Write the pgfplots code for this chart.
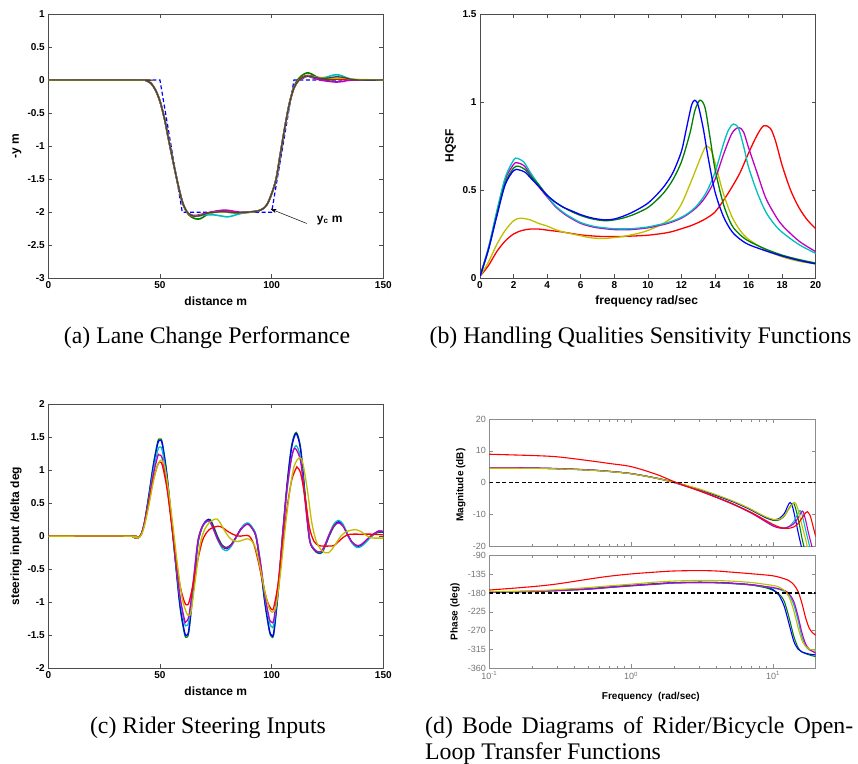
\documentclass[border=0pt]{standalone}
\usepackage{pgfplots}
\pgfplotsset{compat=1.18}
\usepackage{fontspec}
\setmainfont{Liberation Serif}
\newfontfamily\arialf{Liberation Sans}
\usetikzlibrary{arrows.meta}
\definecolor{mblue}{rgb}{0,0,1}
\definecolor{mgreen}{rgb}{0,0.5,0}
\definecolor{mred}{rgb}{1,0,0}
\definecolor{mcyan}{rgb}{0,0.75,0.75}
\definecolor{mmag}{rgb}{0.75,0,0.75}
\definecolor{myel}{rgb}{0.75,0.75,0}
\definecolor{mgray}{rgb}{0.27,0.27,0.27}
\pgfplotsset{
  mat/.style={
    scale only axis, anchor=south west,
    axis line style={black!70, line width=0.6pt},
    tick style={black!70, line width=0.5pt},
    tick align=inside, major tick length=4pt,
    ticklabel style={font=\arialf\bfseries\fontsize{10}{12}\selectfont},
    label style={font=\arialf\bfseries\fontsize{12}{14}\selectfont},
    /pgf/number format/assume math mode=true,
    every axis plot/.append style={line width=1.3pt, smooth},
  },
  md/.style={
    scale only axis, anchor=south west,
    axis line style={black!45, line width=0.6pt},
    tick style={black!45, line width=0.5pt},
    tick align=inside, major tick length=4pt, minor tick length=2.5pt,
    ticklabel style={font=\arialf\fontsize{9}{10}\selectfont, text=black!55},
    label style={font=\arialf\bfseries\fontsize{10}{12}\selectfont},
    /pgf/number format/assume math mode=true,
    every axis plot/.append style={line width=1.1pt, smooth},
    xmin=0.1, xmax=20, xtick={0.1,1,10},
  },
}
\begin{document}
\begin{tikzpicture}
\path[use as bounding box] (0pt,0pt) rectangle (858pt,763pt);

% ---------------- (a) ----------------
\begin{axis}[mat, at={(48.3pt,484.7pt)}, width=335pt, height=264.3pt,
  xmin=0, xmax=150, ymin=-3, ymax=1, xtick={0,50,100,150},
  ytick={-3,-2.5,-2,-1.5,-1,-0.5,0,0.5,1},
  xlabel={distance m}, ylabel={-y m},
  xlabel style={at={(axis description cs:0.5,-0.0885)}, anchor=center},
  ylabel style={at={(axis description cs:-0.0934,0.5)}, anchor=center}]
\addplot[mblue, line width=1.2pt, dash pattern=on 4pt off 2.5pt, sharp plot] coordinates {(0,0) (50,0) (60,-2) (100,-2) (110,0) (150,0)};
\addplot[mgreen, line width=1.6pt] coordinates {(0,0) (42,0) (44,-0.01) (46,-0.05) (48,-0.15) (50,-0.32) (52,-0.58) (54,-0.92) (56,-1.25) (58,-1.57) (60,-1.85) (62,-2.0) (64,-2.07) (66,-2.1) (68,-2.1) (70,-2.06) (72,-2.02) (75,-1.99) (78,-1.98) (81,-2.0) (85,-2.01) (89,-2.0) (92,-1.99) (94,-1.98) (96,-1.95) (98,-1.88) (100,-1.72) (102,-1.5) (104,-1.1) (106,-0.7) (108,-0.35) (110,-0.1) (112,0.02) (114,0.08) (116,0.11) (118,0.09) (120,0.05) (122,0.02) (125,0.0) (128,0.01) (131,0.02) (135,0.01) (140,0) (150,0)};
\addplot[mred, line width=1.6pt] coordinates {(0,0) (42,0) (44,-0.01) (46,-0.05) (48,-0.15) (50,-0.32) (52,-0.58) (54,-0.92) (56,-1.25) (58,-1.57) (60,-1.84) (62,-1.99) (64,-2.06) (68,-2.05) (72,-2.02) (76,-1.98) (78,-1.98) (82,-2.0) (86,-2.01) (90,-2.0) (94,-1.98) (96,-1.95) (98,-1.88) (100,-1.72) (102,-1.5) (104,-1.1) (106,-0.7) (108,-0.35) (110,-0.11) (112,0.0) (114,0.05) (116,0.07) (118,0.06) (122,0.03) (126,0.02) (130,0.02) (136,0.0) (150,0)};
\addplot[mcyan, line width=1.6pt] coordinates {(0,0) (42,0) (44,-0.01) (46,-0.05) (48,-0.15) (50,-0.32) (52,-0.58) (54,-0.92) (56,-1.25) (58,-1.57) (60,-1.84) (62,-1.99) (64,-2.05) (66,-2.06) (70,-2.04) (74,-2.04) (78,-2.06) (80,-2.07) (82,-2.06) (85,-2.03) (89,-2.0) (92,-1.99) (94,-1.98) (96,-1.95) (98,-1.88) (100,-1.72) (102,-1.5) (104,-1.1) (106,-0.7) (108,-0.35) (110,-0.12) (112,-0.01) (114,0.03) (116,0.06) (120,0.04) (124,0.04) (127,0.07) (129,0.08) (131,0.07) (134,0.03) (138,0.0) (150,0)};
\addplot[mmag, line width=1.6pt] coordinates {(0,0) (42,0) (44,-0.01) (46,-0.05) (48,-0.15) (50,-0.32) (52,-0.58) (54,-0.92) (56,-1.25) (58,-1.57) (60,-1.84) (62,-1.99) (64,-2.04) (66,-2.05) (70,-2.02) (74,-1.99) (78,-1.97) (80,-1.97) (82,-1.98) (86,-2.0) (90,-2.0) (94,-1.98) (96,-1.95) (98,-1.88) (100,-1.72) (102,-1.5) (104,-1.1) (106,-0.7) (108,-0.35) (110,-0.12) (112,-0.01) (114,0.03) (116,0.06) (118,0.04) (122,0.0) (126,-0.02) (129,-0.03) (132,-0.02) (136,0.0) (150,0)};
\addplot[myel, line width=1.5pt] coordinates {(0,0) (42,0) (44,-0.01) (46,-0.05) (48,-0.15) (50,-0.32) (52,-0.58) (54,-0.92) (56,-1.25) (58,-1.57) (60,-1.84) (62,-1.99) (64,-2.05) (66,-2.06) (70,-2.03) (75,-2.0) (80,-2.0) (85,-2.01) (90,-2.0) (94,-1.98) (96,-1.95) (98,-1.88) (100,-1.72) (102,-1.5) (104,-1.1) (106,-0.7) (108,-0.35) (110,-0.12) (112,-0.01) (114,0.04) (116,0.06) (120,0.04) (126,0.03) (132,0.03) (138,0.01) (150,0)};
\addplot[mgray, line width=1.3pt] coordinates {(0,0) (42,0) (44,-0.01) (46,-0.05) (48,-0.15) (50,-0.32) (52,-0.58) (54,-0.92) (56,-1.25) (58,-1.57) (60,-1.84) (62,-1.99) (64,-2.05) (66,-2.06) (68,-2.05) (70,-2.03) (72,-2.01) (75,-2.0) (78,-1.99) (81,-2.0) (85,-2.01) (89,-2.0) (92,-1.99) (94,-1.98) (96,-1.95) (98,-1.88) (100,-1.72) (102,-1.5) (104,-1.1) (106,-0.7) (108,-0.35) (110,-0.12) (112,-0.01) (114,0.04) (116,0.06) (118,0.05) (121,0.03) (125,0.03) (129,0.05) (132,0.04) (136,0.01) (140,0) (150,0)};
\draw[-{Stealth[length=6pt,width=4pt]}, black, line width=0.5pt] (axis cs:115.7,-2.17) -- (axis cs:99.5,-1.95);
\node[anchor=west, inner sep=0pt, font=\arialf\bfseries\fontsize{12}{14}\selectfont] at (axis cs:120.2,-2.12) {y\textsubscript{c} m};
\end{axis}

% ---------------- (b) ----------------
\begin{axis}[mat, at={(480pt,485pt)}, width=335.7pt, height=264pt,
  xmin=0, xmax=20, ymin=0, ymax=1.5, xtick={0,2,...,20},
  ytick={0,0.5,1,1.5},
  xlabel={frequency rad/sec}, ylabel={HQSF},
  xlabel style={at={(axis description cs:0.4966,-0.0885)}, anchor=center},
  ylabel style={at={(axis description cs:-0.0873,0.5)}, anchor=center}]
\addplot[mred] coordinates {(0,0.01) (0.5,0.07) (1,0.15) (1.5,0.21) (2,0.25) (2.5,0.27) (3,0.278) (3.5,0.278) (4,0.272) (5,0.26) (6,0.245) (7,0.237) (8,0.235) (9,0.238) (10,0.243) (11,0.255) (11.5,0.265) (12,0.28) (12.5,0.295) (13,0.315) (13.5,0.34) (14,0.375) (14.5,0.44) (15,0.515) (15.5,0.6) (16,0.71) (16.5,0.81) (16.9,0.865) (17.3,0.85) (17.6,0.78) (18,0.64) (18.5,0.5) (19,0.4) (19.5,0.33) (20,0.28)};
\addplot[myel] coordinates {(0,0.01) (0.5,0.09) (1,0.19) (1.5,0.27) (2,0.325) (2.4,0.34) (3,0.33) (3.5,0.31) (4,0.295) (4.5,0.275) (5,0.26) (5.5,0.25) (6,0.24) (6.5,0.23) (7,0.225) (7.5,0.225) (8,0.23) (8.5,0.235) (9,0.245) (9.5,0.255) (10,0.27) (10.5,0.29) (11,0.315) (11.5,0.35) (12,0.42) (12.5,0.53) (13,0.65) (13.3,0.72) (13.5,0.75) (13.8,0.72) (14.1,0.62) (14.5,0.48) (15,0.35) (15.5,0.27) (16,0.22) (17,0.16) (18,0.12) (19,0.095) (20,0.08)};
\addplot[mmag] coordinates {(0,0.01) (0.5,0.17) (1,0.37) (1.5,0.56) (2,0.645) (2.2,0.655) (2.6,0.64) (3,0.59) (3.5,0.52) (4,0.46) (4.5,0.405) (5,0.365) (5.5,0.335) (6,0.31) (6.5,0.295) (7,0.285) (8,0.275) (9,0.275) (10,0.285) (10.5,0.295) (11,0.305) (11.5,0.32) (12,0.34) (12.5,0.37) (13,0.41) (13.5,0.47) (14,0.56) (14.5,0.7) (15,0.82) (15.4,0.855) (15.7,0.83) (16,0.74) (16.5,0.6) (17,0.46) (17.5,0.37) (18,0.3) (19,0.21) (20,0.15)};
\addplot[mcyan] coordinates {(0,0.01) (0.5,0.17) (1,0.38) (1.5,0.57) (2,0.67) (2.2,0.68) (2.6,0.66) (3,0.6) (3.5,0.53) (4,0.465) (4.5,0.41) (5,0.37) (5.5,0.34) (6,0.315) (6.5,0.3) (7,0.29) (8,0.28) (9,0.28) (10,0.29) (10.5,0.3) (11,0.31) (11.5,0.325) (12,0.345) (12.5,0.375) (13,0.42) (13.5,0.49) (14,0.6) (14.5,0.76) (14.8,0.84) (15.1,0.875) (15.4,0.85) (15.7,0.75) (16,0.63) (16.5,0.49) (17,0.38) (17.5,0.31) (18,0.26) (19,0.19) (20,0.14)};
\addplot[mgreen] coordinates {(0,0.01) (0.5,0.16) (1,0.36) (1.5,0.54) (2,0.625) (2.3,0.635) (2.7,0.615) (3,0.58) (3.5,0.53) (4,0.47) (4.5,0.43) (5,0.4) (5.5,0.375) (6,0.355) (6.5,0.34) (7,0.33) (7.5,0.325) (8,0.33) (8.5,0.34) (9,0.355) (9.5,0.375) (10,0.4) (10.5,0.44) (11,0.49) (11.5,0.56) (12,0.66) (12.5,0.82) (12.8,0.95) (13.1,1.01) (13.4,0.97) (13.7,0.8) (14,0.62) (14.5,0.42) (15,0.3) (15.5,0.245) (16,0.21) (17,0.165) (18,0.13) (19,0.105) (20,0.085)};
\addplot[mblue] coordinates {(0,0.01) (0.5,0.16) (1,0.35) (1.5,0.53) (2,0.61) (2.3,0.615) (2.7,0.6) (3,0.57) (3.5,0.52) (4,0.47) (4.5,0.43) (5,0.4) (5.5,0.38) (6,0.36) (6.5,0.345) (7,0.335) (7.5,0.33) (8,0.335) (8.5,0.35) (9,0.37) (9.5,0.395) (10,0.425) (10.5,0.47) (11,0.525) (11.5,0.6) (12,0.72) (12.3,0.85) (12.6,0.98) (12.8,1.01) (13,0.98) (13.3,0.85) (13.6,0.68) (14,0.49) (14.5,0.35) (15,0.265) (15.5,0.22) (16,0.19) (17,0.155) (18,0.125) (19,0.1) (20,0.08)};
\end{axis}

% ---------------- (c) ----------------
\begin{axis}[mat, at={(48.3pt,94.7pt)}, width=335pt, height=264.3pt,
  xmin=0, xmax=150, ymin=-2, ymax=2, xtick={0,50,100,150},
  ytick={-2,-1.5,-1,-0.5,0,0.5,1,1.5,2},
  xlabel={distance m}, ylabel={steering input /delta deg},
  xlabel style={at={(axis description cs:0.5,-0.0885)}, anchor=center},
  ylabel style={at={(axis description cs:-0.0964,0.5)}, anchor=center}]
\addplot[mgreen] coordinates {(0,0) (37,0) (38.5,-0.02) (40,-0.03) (41.5,0.02) (43,0.2) (45,0.62) (47,1.08) (49,1.43) (50,1.47) (51,1.42) (53,0.97) (55,0.3) (57,-0.42) (59,-1.08) (61,-1.48) (62,-1.53) (63,-1.43) (65,-0.8) (67,-0.12) (69,0.14) (71,0.24) (72.5,0.25) (74,0.15) (76,-0.02) (78,-0.14) (80,-0.17) (82,-0.12) (84,-0.02) (86,0.1) (88,0.17) (89.5,0.18) (91,0.13) (93,-0.01) (95,-0.47) (97,-1.02) (99,-1.44) (100,-1.52) (101,-1.47) (103,-0.82) (105,0.05) (107,0.82) (109,1.38) (111,1.57) (113,1.33) (115,0.62) (117,-0.05) (119,-0.21) (121,-0.26) (122.5,-0.25) (124,-0.15) (126,0.02) (128,0.15) (130,0.21) (132,0.16) (134,0.03) (136,-0.09) (138,-0.14) (140,-0.14) (142,-0.08) (144,-0.02) (146,0.03) (148,0.06) (150,0.06)};
\addplot[mblue] coordinates {(0,0) (37,0) (38.5,-0.02) (40,-0.03) (41.5,0.02) (43,0.2) (45,0.6) (47,1.05) (49,1.4) (50,1.45) (51,1.4) (53,0.95) (55,0.3) (57,-0.4) (59,-1.05) (61,-1.45) (62,-1.5) (63,-1.4) (65,-0.75) (67,-0.1) (69,0.15) (71,0.24) (72.5,0.24) (74,0.12) (76,-0.05) (78,-0.16) (80,-0.19) (82,-0.13) (84,-0.02) (86,0.1) (88,0.18) (89.5,0.19) (91,0.14) (93,0.0) (95,-0.45) (97,-1.0) (99,-1.42) (100,-1.5) (101,-1.45) (103,-0.8) (105,0.05) (107,0.8) (109,1.35) (111,1.55) (113,1.3) (115,0.6) (117,-0.05) (119,-0.2) (121,-0.25) (122.5,-0.24) (124,-0.14) (126,0.03) (128,0.17) (130,0.22) (132,0.16) (134,0.02) (136,-0.1) (138,-0.15) (140,-0.14) (142,-0.08) (144,-0.01) (146,0.04) (148,0.07) (150,0.06)};
\addplot[mcyan] coordinates {(0,0) (37,0) (38.5,-0.02) (40,-0.03) (41.5,0.02) (43,0.19) (45,0.56) (47,0.98) (49,1.3) (50,1.35) (51,1.3) (53,0.88) (55,0.27) (57,-0.37) (59,-0.95) (61,-1.32) (62,-1.35) (63,-1.27) (65,-0.68) (67,-0.08) (69,0.14) (71,0.22) (72.5,0.21) (74,0.1) (76,-0.07) (78,-0.19) (80,-0.22) (82,-0.15) (84,-0.03) (86,0.09) (88,0.18) (89.5,0.2) (91,0.15) (93,0.02) (95,-0.4) (97,-0.92) (99,-1.3) (100,-1.37) (101,-1.33) (103,-0.75) (105,0.03) (107,0.72) (109,1.2) (111,1.37) (113,1.17) (115,0.55) (117,-0.04) (119,-0.19) (121,-0.24) (122.5,-0.23) (124,-0.13) (126,0.05) (128,0.19) (130,0.24) (132,0.18) (134,0.03) (136,-0.1) (138,-0.17) (140,-0.16) (142,-0.1) (144,-0.03) (146,0.03) (148,0.08) (150,0.07)};
\addplot[mmag] coordinates {(0,0) (37,0) (38.5,-0.02) (40,-0.03) (41.5,0.02) (43,0.19) (45,0.54) (47,0.93) (49,1.21) (49.5,1.23) (51,1.18) (53,0.8) (55,0.24) (57,-0.36) (59,-0.92) (61,-1.27) (61.5,-1.3) (63,-1.2) (65,-0.66) (67,-0.07) (69,0.15) (71,0.23) (72.5,0.21) (74,0.1) (76,-0.06) (78,-0.16) (80,-0.18) (82,-0.13) (84,-0.02) (86,0.09) (88,0.16) (89.5,0.18) (91,0.13) (93,0.0) (95,-0.4) (97,-0.9) (99,-1.25) (100,-1.3) (101,-1.26) (103,-0.7) (105,0.05) (107,0.75) (109,1.2) (110.5,1.33) (113,1.13) (115,0.52) (117,-0.06) (119,-0.2) (121,-0.24) (122.5,-0.22) (124,-0.12) (126,0.04) (128,0.16) (130,0.2) (132,0.15) (134,0.02) (136,-0.09) (138,-0.14) (140,-0.13) (142,-0.07) (144,-0.01) (146,0.04) (148,0.08) (150,0.07)};
\addplot[mred] coordinates {(0,0) (37,0) (38.5,-0.02) (40,-0.03) (41.5,0.02) (43,0.17) (45,0.5) (47,0.85) (49,1.08) (50,1.12) (51,1.08) (53,0.75) (55,0.25) (57,-0.3) (59,-0.75) (61,-1.0) (62,-1.04) (63,-1.0) (65,-0.7) (67,-0.35) (69,-0.07) (71,0.06) (73,0.12) (76,0.15) (78,0.13) (80,0.08) (82,0.04) (84,0.01) (86,0.0) (88,0.01) (90,0.0) (92,-0.12) (94,-0.38) (96,-0.7) (98,-0.98) (100,-1.11) (101,-1.07) (103,-0.7) (105,-0.1) (107,0.45) (109,0.85) (111,1.03) (111.5,1.04) (113,0.95) (115,0.58) (117,0.12) (119,-0.08) (121,-0.14) (123,-0.15) (126,-0.15) (128,-0.14) (130,-0.08) (132,-0.02) (134,0.02) (136,0.03) (140,0.03) (145,0.03) (150,0.02)};
\addplot[myel] coordinates {(0,0) (37,0) (38.5,-0.02) (40,-0.03) (41.5,0.01) (43,0.15) (45,0.46) (47,0.82) (49,1.08) (50.5,1.15) (52,1.07) (54,0.65) (56,0.1) (58,-0.48) (60,-0.95) (62,-1.17) (63,-1.2) (64,-1.13) (66,-0.62) (68,-0.12) (70,0.1) (72,0.2) (74,0.25) (75.5,0.26) (77,0.2) (79,0.08) (81,-0.02) (83,-0.07) (85,-0.08) (87,-0.06) (89,-0.04) (91,-0.07) (93,-0.2) (95,-0.5) (97,-0.85) (99,-1.1) (100.5,-1.15) (102,-1.05) (104,-0.55) (106,0.1) (108,0.65) (110,1.05) (112.5,1.19) (114,1.1) (116,0.7) (118,0.2) (120,-0.08) (122,-0.2) (124,-0.25) (125.5,-0.25) (127,-0.2) (129,-0.1) (131,0.0) (133,0.06) (135.5,0.09) (137.5,0.1) (140,0.07) (142,0.02) (144,-0.02) (146,-0.03) (148,-0.03) (150,-0.03)};
\end{axis}

% ---------------- (d) magnitude ----------------
\begin{semilogxaxis}[md, at={(489.3pt,217pt)}, width=326.4pt, height=127pt,
  ymin=-20, ymax=20, ytick={-20,-10,0,10,20}, xticklabels={},
  ylabel={Magnitude (dB)},
  ylabel style={at={(axis description cs:-0.0876,0.48)}, anchor=center}]
\addplot[mgreen] coordinates {(0.1,4.5) (0.2,4.5) (0.3,4.35) (0.5,3.95) (0.7,3.5) (1,2.8) (1.5,1.4) (2,0.1) (3,-2.2) (4,-4.1) (5,-5.7) (6,-7.2) (7,-8.6) (8,-10.0) (9,-11.2) (10,-11.9) (11,-11.8) (12,-10.6) (13,-8.0) (13.9,-6.5) (14.5,-8.5) (15.3,-13) (16,-17.5) (16.6,-20.5)};
\addplot[mblue] coordinates {(0.1,4.6) (0.2,4.5) (0.3,4.35) (0.5,3.95) (0.7,3.5) (1,2.8) (1.5,1.4) (2,0.1) (3,-2.2) (4,-4.1) (5,-5.7) (6,-7.2) (7,-8.6) (8,-10.0) (9,-11.1) (10,-11.7) (11,-11.4) (12,-9.8) (12.7,-7.4) (13.2,-6.3) (13.7,-7.5) (14.3,-11) (15,-15.5) (15.9,-20.5)};
\addplot[mcyan] coordinates {(0.1,4.6) (0.2,4.5) (0.3,4.35) (0.5,3.95) (0.7,3.5) (1,2.8) (1.5,1.35) (2,0.0) (3,-2.5) (4,-4.6) (5,-6.4) (6,-8.0) (7,-9.5) (8,-11.0) (9,-12.4) (10,-13.6) (11,-14.2) (12,-14.3) (13,-13.8) (14,-12.3) (15,-9.8) (15.5,-8.8) (16,-10) (17,-15) (18.2,-20.5)};
\addplot[mmag] coordinates {(0.1,4.7) (0.2,4.6) (0.3,4.4) (0.5,4.0) (0.7,3.5) (1,2.8) (1.5,1.35) (2,0.0) (3,-2.5) (4,-4.7) (5,-6.5) (6,-8.1) (7,-9.6) (8,-11.1) (9,-12.5) (10,-13.7) (11,-14.3) (12,-14.4) (13,-13.9) (14,-13) (15,-11.2) (16.1,-9.0) (16.8,-11) (17.8,-16) (18.9,-20.5)};
\addplot[myel] coordinates {(0.1,4.5) (0.2,4.45) (0.3,4.3) (0.5,3.9) (0.7,3.45) (1,2.75) (1.5,1.35) (2,0.1) (3,-2.0) (4,-3.9) (5,-5.5) (6,-7.0) (7,-8.4) (8,-9.8) (9,-10.9) (10,-11.6) (11,-11.6) (12,-10.5) (13,-8.2) (14.2,-6.3) (15,-8.5) (16,-13.5) (17,-18) (17.5,-20.5)};
\addplot[mred] coordinates {(0.1,8.9) (0.2,8.5) (0.3,8.1) (0.5,6.9) (0.7,6.0) (1,5.0) (1.5,2.6) (2,0.3) (3,-2.6) (4,-4.7) (5,-6.4) (6,-8.0) (7,-9.4) (8,-10.8) (9,-12.1) (10,-13.2) (11,-14.0) (12,-14.4) (13,-14.4) (14,-14) (15,-13) (16,-11.2) (17,-9.5) (17.5,-9.2) (18.3,-10.5) (19.2,-14) (20,-17)};
\addplot[black, line width=1.2pt, dash pattern=on 4pt off 2.5pt, sharp plot] coordinates {(0.1,0) (20,0)};
\end{semilogxaxis}

% ---------------- (d) phase ----------------
\begin{semilogxaxis}[md, at={(489.3pt,94.7pt)}, width=326.4pt, height=113pt,
  ymin=-360, ymax=-90, ytick={-360,-315,-270,-225,-180,-135,-90},
  xticklabels={10\textsuperscript{-1},10\textsuperscript{0},10\textsuperscript{1}},
  xlabel={Frequency\ \ (rad/sec)}, ylabel={Phase (deg)},
  xlabel style={at={(axis description cs:0.495,-0.251)}, anchor=center},
  ylabel style={at={(axis description cs:-0.105,0.5)}, anchor=center}]
\addplot[mgreen] coordinates {(0.1,-178) (0.2,-176) (0.3,-174) (0.5,-170) (0.7,-166) (1,-162) (1.5,-158) (2,-155.5) (3,-154.5) (4,-155) (5,-156.5) (7,-161) (9,-168) (10,-174) (11,-182) (12,-200) (13,-240) (14,-283) (15,-310) (16,-321) (18,-328) (20,-332)};
\addplot[mblue] coordinates {(0.1,-178) (0.2,-176) (0.3,-174) (0.5,-170) (0.7,-166) (1,-162) (1.5,-158) (2,-155.5) (3,-154.5) (4,-155) (5,-156.5) (7,-160) (9,-166) (10,-172) (11,-185) (12,-212) (13,-255) (14,-295) (15,-314) (16,-321) (18,-326) (20,-328)};
\addplot[mcyan] coordinates {(0.1,-178) (0.2,-176.5) (0.3,-174.5) (0.5,-171) (0.7,-167) (1,-163) (1.5,-159) (2,-156.5) (3,-155.5) (4,-156) (5,-157.5) (7,-161) (10,-168) (12,-176) (13,-185) (14,-208) (15,-245) (16,-285) (17,-307) (18,-316) (20,-322)};
\addplot[mmag] coordinates {(0.1,-178) (0.2,-176.5) (0.3,-174.5) (0.5,-171) (0.7,-167) (1,-163) (1.5,-159) (2,-156) (3,-155) (4,-155.5) (5,-157) (7,-160.5) (10,-167) (12,-174) (13,-182) (14,-200) (15,-235) (16,-275) (17,-302) (18,-314) (20,-324)};
\addplot[myel] coordinates {(0.1,-177) (0.2,-175) (0.3,-172) (0.5,-167) (0.7,-163) (1,-159) (1.5,-154) (2,-151.5) (3,-150) (4,-150.5) (5,-151.5) (7,-155) (10,-162) (11,-166) (12,-174) (13,-190) (14,-222) (15,-262) (16,-293) (17,-308) (18,-314) (20,-317)};
\addplot[mred] coordinates {(0.1,-173) (0.2,-165) (0.3,-158.5) (0.5,-147) (0.7,-140) (1,-134.5) (1.5,-130) (2,-127.5) (3,-126.5) (4,-127.5) (5,-130) (7,-134) (10,-139) (12,-146) (13,-151) (14,-160) (15,-176) (16,-205) (17,-240) (18,-264) (19,-275) (20,-281)};
\addplot[black, line width=1.2pt, dash pattern=on 4pt off 2.5pt, sharp plot] coordinates {(0.1,-180) (20,-180)};
\end{semilogxaxis}

% ---------------- captions ----------------
\begin{scope}[every node/.style={inner sep=0pt, font=\fontsize{23.8}{28}\selectfont}]
\node[anchor=base] at (207pt,419.7pt) {(a) Lane Change Performance};
\node[anchor=base] at (640.5pt,419.7pt) {(b) Handling Qualities Sensitivity Functions};
\node[anchor=base] at (208pt,30pt) {(c) Rider Steering Inputs};
\node[anchor=base west] at (425pt,30pt) {\makebox[428pt][s]{(d) Bode Diagrams of Rider/Bicycle Open-}};
\node[anchor=base west] at (425pt,4pt) {Loop Transfer Functions};
\end{scope}
\end{tikzpicture}
\end{document}
